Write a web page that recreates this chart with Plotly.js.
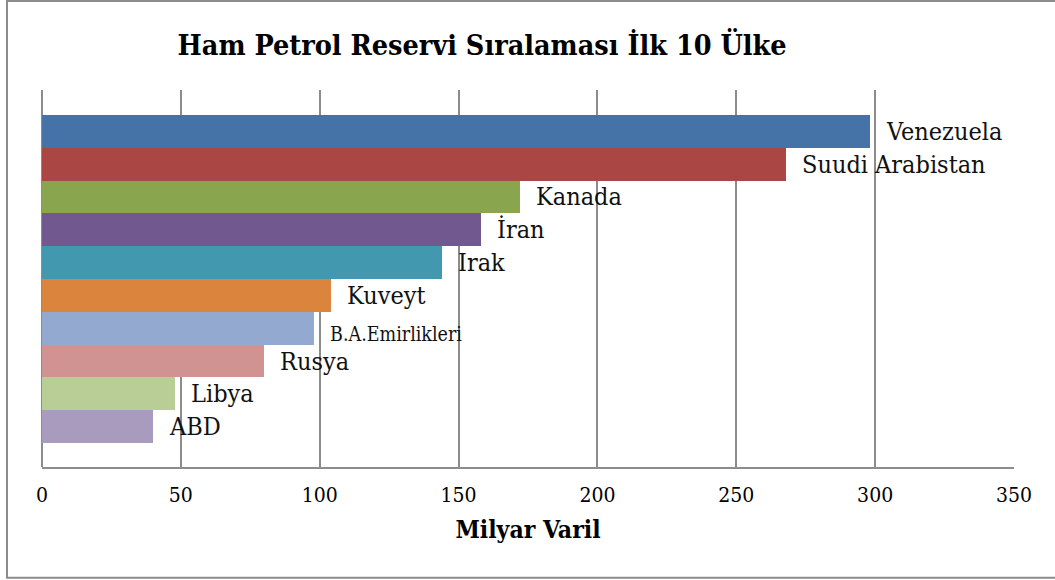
<!DOCTYPE html>
<html>
<head>
<meta charset="utf-8">
<script src="https://cdn.plot.ly/plotly-3.0.1.min.js"></script>
<style>
html,body{margin:0;padding:0;background:#fff;}
#chart{width:1055px;height:580px;}
</style>
</head>
<body>
<div id="chart"></div>
<script>
// Data
const countries = ["Venezuela","Suudi Arabistan","Kanada","İran","Irak","Kuveyt","B.A.Emirlikleri","Rusya","Libya","ABD"];
const reserves = [298, 268, 172, 158, 144, 104, 98, 80, 48, 40];
const barColors = ["#4572A7","#AA4643","#89A54E","#71588F","#4198AF","#DB843D","#93A9CF","#D19392","#B9CD96","#A99BBD"];
const labelSizes = [25, 25, 25, 25, 25, 25, 19.5, 25, 25, 25];
const xTicks = [0, 50, 100, 150, 200, 250, 300, 350];

const FONT = "'DejaVu Serif Condensed', 'DejaVu Serif', serif";

const trace = {
  type: "bar",
  orientation: "h",
  y: countries,
  x: reserves,
  marker: {color: barColors, line: {width: 0}},
  hoverinfo: "x+y"
};

const annotations = countries.map((c, i) => ({
  x: reserves[i], y: c, xref: "x", yref: "y",
  text: c, showarrow: false, xanchor: "left", yanchor: "middle",
  xshift: 14, yshift: (i === 6 ? -6 : 0),
  font: {family: FONT, size: labelSizes[i], color: "#111"}
}));

const layout = {
  width: 1055, height: 580,
  margin: {l: 42, r: 41, t: 90, b: 113},
  paper_bgcolor: "#fff", plot_bgcolor: "#fff",
  showlegend: false,
  bargap: 0,
  title: {
    text: "<b>Ham Petrol Reservi Sıralaması İlk 10 Ülke</b>",
    font: {family: FONT, size: 28.5, color: "#000"},
    xref: "container", x: 0.457, xanchor: "center",
    yref: "container", y: 0.922, yanchor: "middle"
  },
  xaxis: {
    range: [0, 350],
    tickvals: xTicks,
    ticktext: xTicks.map(String),
    showgrid: true, gridcolor: "#8c8c8c", gridwidth: 2,
    zeroline: false,
    showline: true, linecolor: "#8c8c8c", linewidth: 2,
    ticks: "outside", ticklen: 8, tickcolor: "rgba(0,0,0,0)",
    tickfont: {family: FONT, size: 21, color: "#000"},
    title: {text: "<b>Milyar Varil</b>", font: {family: FONT, size: 24.5, color: "#000"}, standoff: 15},
    fixedrange: true
  },
  yaxis: {
    type: "category",
    categoryorder: "array", categoryarray: countries,
    range: [10.23, -1.26],
    showticklabels: false, showgrid: false, zeroline: false, showline: false,
    ticks: "", fixedrange: true
  },
  annotations: annotations,
  shapes: [{
    type: "rect", xref: "paper", yref: "paper",
    x0: -0.036, x1: 1.047, y0: -0.294, y1: 1.236,
    line: {color: "#8c8c8c", width: 2}, fillcolor: "rgba(0,0,0,0)", layer: "below"
  }, {
    type: "line", xref: "paper", yref: "paper",
    x0: 0, x1: 0, y0: 0, y1: 1,
    line: {color: "#8c8c8c", width: 2}, layer: "below"
  }]
};

Plotly.newPlot("chart", [trace], layout, {displayModeBar: false, staticPlot: true});
</script>
</body>
</html>
